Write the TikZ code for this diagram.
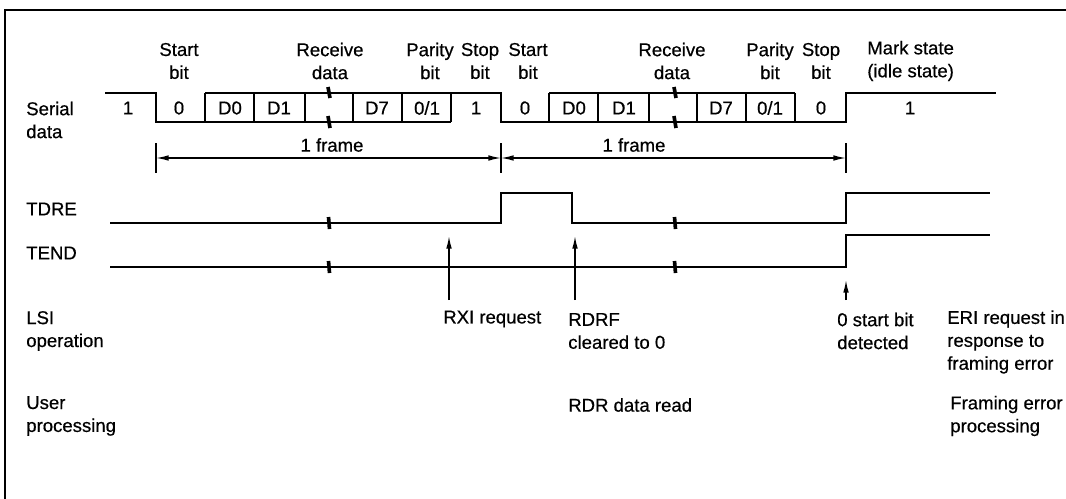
\documentclass[tikz,border=0pt]{standalone}
\usepackage{fontspec}
\setmainfont{Liberation Sans}[FakeBold=0.5]
\usetikzlibrary{arrows.meta,positioning}

\begin{document}
\begin{tikzpicture}[x=0.025cm, y=-0.025cm,
  wave/.style={draw, line width=1.2pt, line join=miter},
  lbl/.style={font=\fontsize{13.2}{16.3}\selectfont, align=center, inner sep=0pt},
  side/.style={lbl, align=left, anchor=west},
  brk/.style={draw, line width=2.6pt},
  tick/.style={draw, line width=1pt},
  line/.style={draw, line width=1pt, -{Latex[length=9pt,width=4pt]}},
  dim/.style={draw, line width=1pt, {Latex[length=9pt,width=4pt]}-{Latex[length=9pt,width=4pt]}}]

  \useasboundingbox (0,0) rectangle (1066,499);
  \draw [line width=1.4pt] (1066,10) -- (5,10) -- (5,499);

  % row titles
  \node [side] (serial) at (26,120) {Serial\\data};
  \node [side] (tdre) at (26,209) {TDRE};
  \node [side] (tend) at (26,253) {TEND};
  \node [side] (lsi) at (26,331) {LSI\\operation};
  \node [side] (user) at (26,416) {User\\processing};

  % field names above the serial data
  \node [lbl] (start1) at (179,61) {Start\\bit};
  \node [lbl] (recv1) at (330,61) {Receive\\data};
  \node [lbl] (par1) at (430,61) {Parity\\bit};
  \node [lbl] (stop1) at (480,61) {Stop\\bit};
  \node [lbl] (start2) at (528,61) {Start\\bit};
  \node [lbl] (recv2) at (672,61) {Receive\\data};
  \node [lbl] (par2) at (770,61) {Parity\\bit};
  \node [lbl] (stop2) at (821,61) {Stop\\bit};
  \node [side] (mark) at (867,61) {Mark state\\(idle state)};

  % serial data
  \draw [wave] (105,93) -- (156,93) -- (156,122) -- (451,122);
  \draw [wave] (205,93) -- (501,93) -- (501,122) -- (846,122) -- (846,93) -- (996,93);
  \draw [wave] (549,93) -- (795,93);
  \foreach \x in {205,254,305,353,402,451,549,598,649,697,746,795}
    \draw [wave] (\x,93) -- (\x,122);
  \foreach \x in {329,675} {
    \draw [brk] (\x-1,87) -- (\x+1,98);
    \draw [brk] (\x-1,116) -- (\x+1,128);
  }
  \node [lbl] (b1) at (128,108) {1};
  \node [lbl] (b2) at (179,108) {0};
  \node [lbl] (b3) at (230,108) {D0};
  \node [lbl] (b4) at (279,108) {D1};
  \node [lbl] (b5) at (377,108) {D7};
  \node [lbl] (b6) at (427,108) {0/1};
  \node [lbl] (b7) at (476,108) {1};
  \node [lbl] (b8) at (525,108) {0};
  \node [lbl] (b9) at (574,108) {D0};
  \node [lbl] (b10) at (624,108) {D1};
  \node [lbl] (b11) at (721,108) {D7};
  \node [lbl] (b12) at (770,108) {0/1};
  \node [lbl] (b13) at (821,108) {0};
  \node [lbl] (b14) at (910,108) {1};

  % frame lengths
  \coordinate (fa) at (156,158);
  \coordinate (fb) at (501,158);
  \coordinate (fc) at (846,158);
  \foreach \x in {156,501,846}
    \draw [tick] (\x,143) -- (\x,173);
  \draw [dim] (fa) -- (fb);
  \draw [dim] (fb) -- (fc);
  \node [lbl] (frame1) at (332,145) {1 frame};
  \node [lbl] (frame2) at (634,145) {1 frame};

  % flags
  \draw [wave] (110,223) -- (501,223) -- (501,193) -- (572,193) -- (572,223) -- (846,223) -- (846,193) -- (990,193);
  \draw [wave] (110,267) -- (846,267) -- (846,235) -- (990,235);
  \foreach \x in {329,675} {
    \draw [brk] (\x-0.5,217) -- (\x+0.5,229);
    \draw [brk] (\x-0.5,261) -- (\x+0.5,273);
  }

  % events
  \coordinate (rxi-b) at (449,300);
  \coordinate (rxi-t) at (449,236);
  \coordinate (rdrf-b) at (575,300);
  \coordinate (rdrf-t) at (575,236);
  \coordinate (det-b) at (846,300);
  \coordinate (det-t) at (846,280);
  \draw [line] (rxi-b) -- (rxi-t);
  \draw [line] (rdrf-b) -- (rdrf-t);
  \draw [line] (det-b) -- (det-t);

  \node [side] (rxi) at (443,319) {RXI request};
  \node [side] (rdrf) at (568,331) {RDRF\\cleared to 0};
  \node [side] (det) at (837,331) {0 start bit\\detected};
  \node [side] (eri) at (947,342) {ERI request in\\response to\\framing error};
  \node [side] (rdr) at (568,405) {RDR data read};
  \node [side] (ferr) at (950,416) {Framing error\\processing};
\end{tikzpicture}
\end{document}
